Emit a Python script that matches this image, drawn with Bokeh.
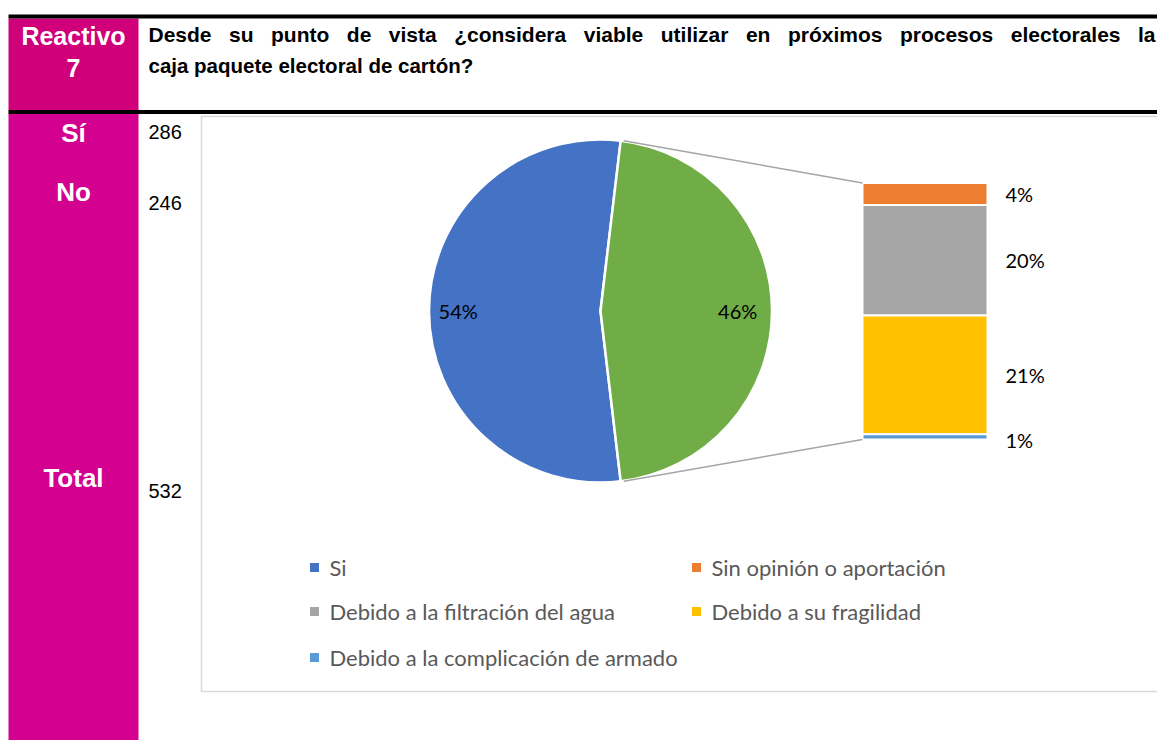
import math
from bokeh.plotting import figure
from bokeh.models import Range1d
from bokeh.core.properties import value
from bokeh.embed import file_html
from bokeh.resources import INLINE

# ---------------- data ----------------
title_line1 = "Desde su punto de vista ¿considera viable utilizar en próximos procesos electorales la"
title_line2 = "caja paquete electoral de cartón?"
row_labels = ["Sí", "No", "Total"]
row_values = [286, 246, 532]

pie_labels = ["Si", "No"]
pie_values = [286, 246]
pie_colors = ["#4472C4", "#70AD47"]

bar_labels = ["Sin opinión o aportación", "Debido a la filtración del agua",
              "Debido a su fragilidad", "Debido a la complicación de armado"]
bar_values = [21, 106, 114, 5]
bar_colors = ["#ED7D31", "#A5A5A5", "#FFC000", "#5B9BD5"]

legend_order = ["Si", "Sin opinión o aportación", "Debido a la filtración del agua",
                "Debido a su fragilidad", "Debido a la complicación de armado"]
legend_colors = ["#4472C4", "#ED7D31", "#A5A5A5", "#FFC000", "#5B9BD5"]

# ---------------- figure (pixel-like coordinates, y measured from page top) ----------------
W, H = 1157, 740
p = figure(width=W, height=H, output_backend="svg", toolbar_location=None,
           x_range=Range1d(0, W), y_range=Range1d(740 - H, 740),
           min_border=0, outline_line_color=None)
p.axis.visible = False
p.grid.visible = False
p.background_fill_color = "white"
p.border_fill_color = "white"


def Y(y):
    return 740 - y


ARIAL = value("Liberation Sans")
CAL = value("Lato")

# pink column
p.quad(left=[8], right=[138], top=[Y(18)], bottom=[Y(110)], fill_color="#D0007A", line_color=None)
p.quad(left=[8], right=[138], top=[Y(113)], bottom=[Y(760)], fill_color="#D4008F", line_color=None)
# black rules
p.quad(left=[8], right=[1170], top=[Y(14)], bottom=[Y(18)], fill_color="black", line_color=None)
p.quad(left=[8], right=[1170], top=[Y(109.5)], bottom=[Y(113.5)], fill_color="black", line_color=None)

# header texts
p.text(x=[73, 73], y=[Y(35), Y(67)], text=["Reactivo", "7"], text_color="white",
       text_font=ARIAL, text_font_style="bold", text_font_size="25px",
       text_align="center", text_baseline="middle")

# justified first title line (Arial-Bold metrics, per 1000 em)
AW = {' ': 278, '¿': 611, 'ó': 611, 'a': 556, 'b': 611, 'c': 556, 'd': 611, 'e': 556, 'f': 333,
      'g': 611, 'h': 611, 'i': 278, 'j': 278, 'k': 556, 'l': 278, 'm': 889, 'n': 611, 'o': 611,
      'p': 611, 'q': 611, 'r': 389, 's': 556, 't': 333, 'u': 611, 'v': 556, 'w': 778, 'x': 556,
      'y': 556, 'z': 500, 'D': 722, '?': 611}
FS1 = 21
words = title_line1.split(" ")
widths = [sum(AW.get(ch, 556) for ch in w) * FS1 / 1000 for w in words]
x_start, x_end = 148, 1155
gap = (x_end - x_start - sum(widths)) / (len(words) - 1)
wx = []
cur = x_start
for w in widths:
    wx.append(cur)
    cur += w + gap
p.text(x=wx, y=[Y(34)] * len(words), text=words, text_color="black",
       text_font=ARIAL, text_font_style="bold", text_font_size=f"{FS1}px",
       text_align="left", text_baseline="middle")
p.text(x=[148], y=[Y(65)], text=[title_line2], text_color="black",
       text_font=ARIAL, text_font_style="bold", text_font_size="20.5px",
       text_align="left", text_baseline="middle")

# row labels and values
p.text(x=[73, 73, 73], y=[Y(132), Y(191), Y(477)], text=row_labels, text_color="white",
       text_font=ARIAL, text_font_style="bold", text_font_size="26px",
       text_align="center", text_baseline="middle")
p.text(x=[148, 148, 148], y=[Y(131), Y(202), Y(490)], text=[str(v) for v in row_values],
       text_color="black", text_font=ARIAL, text_font_size="20px",
       text_align="left", text_baseline="middle")

# chart frame
p.quad(left=[201], right=[1180], top=[Y(116)], bottom=[Y(691)], fill_color="white",
       line_color="#D9D9D9", line_width=1.5)

# ---------------- pie ----------------
cx, cy, r = 600, Y(310.5), 171.5
total = sum(pie_values)
other_ang = pie_values[1] / total * 2 * math.pi
g_start, g_end = -other_ang / 2, other_ang / 2
p.wedge(x=[cx], y=[cy], radius=r, start_angle=[g_end], end_angle=[g_start + 2 * math.pi],
        fill_color=pie_colors[0], line_color="white", line_width=2.5)
p.wedge(x=[cx], y=[cy], radius=r, start_angle=[g_start], end_angle=[g_end],
        fill_color=pie_colors[1], line_color="white", line_width=2.5)

pie_pct = [f"{round(v / total * 100)}%" for v in pie_values]
p.text(x=[cx - 0.83 * r, cx + 0.80 * r], y=[cy, cy], text=pie_pct, text_color="black",
       text_font=CAL, text_font_size="20px", text_align="center", text_baseline="middle")

# ---------------- stacked bar of "No" ----------------
bx0, bx1 = 862, 987
btop, bbot = Y(182.5), Y(439)
scale = (btop - bbot) / sum(bar_values)
tops, bottoms = [], []
cur = btop
for v in bar_values:
    tops.append(cur)
    cur -= v * scale
    bottoms.append(cur)
p.quad(left=[bx0] * 4, right=[bx1] * 4, top=tops, bottom=bottoms, fill_color=bar_colors,
       line_color="white", line_width=2)

bar_pct = [f"{round(v / total * 100)}%" for v in bar_values]
label_y = [(t + b) / 2 for t, b in zip(tops, bottoms)]
label_y[-1] = bottoms[-1]
p.text(x=[1005] * 4, y=label_y, text=bar_pct, text_color="black", text_font=CAL,
       text_font_size="20px", text_align="left", text_baseline="middle")

# connector lines
tx, ty = cx + r * math.cos(g_end), cy + r * math.sin(g_end)
bxx, byy = cx + r * math.cos(g_start), cy + r * math.sin(g_start)
p.segment(x0=[tx + 3, bxx + 3], y0=[ty, byy], x1=[bx0, bx0], y1=[btop, bbot],
          line_color="#A5A5A5", line_width=1.5)

# ---------------- legend ----------------
lx = [314, 696, 314, 696, 314]
ly = [Y(567), Y(567), Y(611), Y(611), Y(657)]
p.scatter(x=lx, y=ly, marker="square", size=9, fill_color=legend_colors, line_color=None)
p.text(x=[v + 15 for v in lx], y=ly, text=legend_order, text_color="#595959", text_font=CAL,
       text_font_size="22px", text_align="left", text_baseline="middle")

open("out.html", "w").write(file_html(p, INLINE))
